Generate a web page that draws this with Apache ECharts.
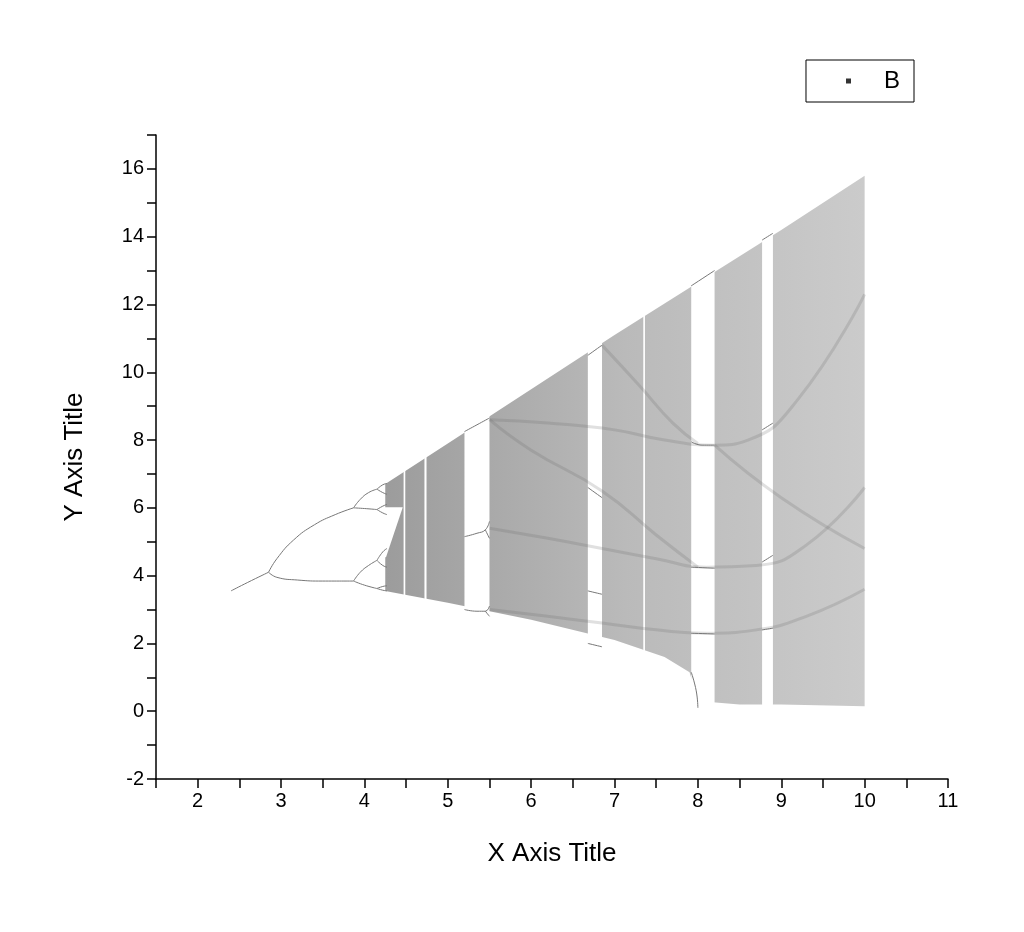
<!DOCTYPE html>
<html>
<head>
<meta charset="utf-8">
<script src="https://cdn.jsdelivr.net/npm/echarts@6/dist/echarts.min.js"></script>
<style>html,body{margin:0;background:#fff}#c{width:1024px;height:932px}</style>
</head>
<body>
<div id="c"></div>
<script>
// 混沌带上下包络
const bandUpper = [[4.25, 6.7], [5, 7.9], [6, 9.5], [7, 11.1], [8, 12.65], [9, 14.2], [10, 15.8]];
const bandLower = [[4.25, 3.55], [5, 3.2], [6, 2.7], [7, 2.1], [7.6, 1.6], [7.9, 1.15], [8.0, 0.3], [8.5, 0.2], [9, 0.2], [10, 0.15]];
// 4.2-4.45 之间两带之间的空白楔形
const wedge = [[4.2, 6.02], [4.46, 6.02], [4.26, 4.55], [4.2, 4.5]];
// 周期窗口 (空白竖条)
const windows = [[4.47, 4.49], [4.72, 4.745], [5.2, 5.5], [6.68, 6.85], [7.345, 7.365], [7.92, 8.2], [8.77, 8.9]];
// 周期轨道分支
const branches = [
  [[2.4, 3.55], [2.6, 3.8], [2.85, 4.1]],
  [[2.85, 4.1], [2.95, 4.5], [3.15, 5.05], [3.4, 5.5], [3.65, 5.8], [3.87, 6.0]],
  [[2.85, 4.1], [2.95, 3.95], [3.2, 3.87], [3.5, 3.84], [3.87, 3.84]],
  [[3.87, 6.0], [3.95, 6.25], [4.05, 6.45], [4.15, 6.55]],
  [[3.87, 6.0], [4.0, 5.98], [4.15, 5.95]],
  [[3.87, 3.84], [3.95, 4.1], [4.05, 4.3], [4.15, 4.45]],
  [[3.87, 3.84], [4.0, 3.72], [4.15, 3.62]],
  [[4.15, 6.55], [4.22, 6.68], [4.27, 6.72]],
  [[4.15, 6.55], [4.22, 6.45], [4.27, 6.4]],
  [[4.15, 5.95], [4.22, 6.05], [4.27, 6.1]],
  [[4.15, 5.95], [4.22, 5.85], [4.27, 5.8]],
  [[4.15, 4.45], [4.22, 4.7], [4.27, 4.8]],
  [[4.15, 4.45], [4.22, 4.3], [4.27, 4.25]],
  [[4.15, 3.62], [4.22, 3.68], [4.27, 3.7]],
  [[4.15, 3.62], [4.22, 3.57], [4.27, 3.55]],
  // 周期3窗口
  [[5.2, 8.25], [5.35, 8.45], [5.5, 8.65]],
  [[5.2, 5.15], [5.35, 5.25], [5.45, 5.35], [5.5, 5.6]],
  [[5.45, 5.35], [5.5, 5.1]],
  [[5.2, 3.0], [5.35, 2.95], [5.45, 2.95], [5.5, 3.1]],
  [[5.45, 2.95], [5.5, 2.8]],
  // 6.7 窗口
  [[6.68, 10.5], [6.85, 10.8]],
  [[6.68, 6.6], [6.85, 6.3]],
  [[6.68, 3.55], [6.85, 3.45]],
  [[6.68, 2.0], [6.85, 1.9]],
  // 8 窗口
  [[7.92, 12.55], [8.2, 13.0]],
  [[7.92, 7.95], [8.05, 7.85], [8.2, 7.85]],
  [[7.92, 4.25], [8.2, 4.22]],
  [[7.92, 2.3], [8.2, 2.28]],
  [[7.92, 1.15], [7.98, 0.6], [8.0, 0.1]],
  // 8.8 窗口
  [[8.77, 13.9], [8.9, 14.1]],
  [[8.77, 8.3], [8.9, 8.5]],
  [[8.77, 4.4], [8.9, 4.6]],
  [[8.77, 2.4], [8.9, 2.45]]
];
// 混沌带内较暗的影线
const shadows = [
  [[5.5, 8.6], [6.2, 8.5], [7.0, 8.3], [7.6, 8.0], [8.2, 7.85], [8.6, 8.0], [9.2, 9.2], [10, 12.3]],
  [[6.85, 10.8], [7.3, 9.6], [7.7, 8.5], [8.0, 7.9]],
  [[5.5, 5.4], [6.2, 5.1], [6.85, 4.8], [7.5, 4.5], [8.1, 4.25], [8.7, 4.3], [9.3, 4.9], [10, 6.6]],
  [[5.5, 3.0], [6.2, 2.8], [6.85, 2.6], [7.5, 2.4], [8.1, 2.3], [8.7, 2.4], [9.3, 2.8], [10, 3.6]],
  [[5.5, 8.6], [6.0, 7.7], [6.85, 6.5], [7.5, 5.2], [8.0, 4.25]],
  [[8.2, 7.85], [9.0, 6.3], [10, 4.8]]
];
const xTicks = [2, 3, 4, 5, 6, 7, 8, 9, 10, 11];
const yTicks = [-2, 0, 2, 4, 6, 8, 10, 12, 14, 16];

function polySeries(points, fill, z) {
  return {
    type: 'custom', z: z, silent: true, data: [0],
    renderItem: function (params, api) {
      return { type: 'polygon', shape: { points: points.map(p => api.coord(p)) }, style: { fill: fill } };
    }
  };
}
function lineSeries(points, color, width, z) {
  return {
    type: 'line', data: points, z: z, symbol: 'none', silent: true, smooth: true,
    lineStyle: { color: color, width: width }
  };
}

const chart = echarts.init(document.getElementById('c'));
const series = [];
series.push(polySeries(bandUpper.concat(bandLower.slice().reverse()), {
  type: 'linear', x: 0, y: 0, x2: 1, y2: 0,
  colorStops: [{ offset: 0, color: '#9c9c9c' }, { offset: 0.5, color: '#bababa' }, { offset: 1, color: '#cbcbcb' }]
}, 1));
series.push(polySeries(wedge, '#fff', 2));
windows.forEach(w => series.push(polySeries([[w[0], 0.05], [w[1], 0.05], [w[1], 16.2], [w[0], 16.2]], '#fff', 2)));
shadows.forEach(s => series.push(lineSeries(s, 'rgba(100,100,100,0.2)', 3, 3)));
branches.forEach(b => series.push(lineSeries(b, '#777', 1, 4)));
series.push({ name: 'B', type: 'scatter', data: [], symbol: 'rect', symbolSize: 5, itemStyle: { color: '#000' } });

const font = 'Liberation Sans';
chart.setOption({
  animation: false,
  grid: { left: 156, right: 76, top: 135, bottom: 153 },
  legend: {
    data: [{ name: 'B', icon: 'rect' }], right: 110, top: 60, itemWidth: 5, itemHeight: 5, itemGap: 10,
    borderColor: '#000', borderWidth: 1, borderRadius: 0, padding: [9, 14, 9, 40],
    textStyle: { fontFamily: font, fontSize: 24, color: '#000', padding: [0, 0, 0, 28] }
  },
  xAxis: {
    type: 'value', min: 1.5, max: 11, interval: 0.5, name: 'X Axis Title', nameLocation: 'middle', nameGap: 62,
    nameTextStyle: { fontFamily: font, fontSize: 26, color: '#000' },
    axisLine: { onZero: false, lineStyle: { color: '#000', width: 1.5 } },
    axisTick: { length: 9, lineStyle: { color: '#000', width: 1.5 } },
    axisLabel: {
      fontFamily: font, fontSize: 20, color: '#000', margin: 12,
      formatter: v => xTicks.indexOf(v) >= 0 ? String(v) : ''
    },
    splitLine: { show: false }
  },
  yAxis: {
    type: 'value', min: -2, max: 17, interval: 1, name: 'Y Axis Title', nameLocation: 'middle', nameGap: 68,
    nameTextStyle: { fontFamily: font, fontSize: 26, color: '#000' },
    axisLine: { show: true, onZero: false, lineStyle: { color: '#000', width: 1.5 } },
    axisTick: { show: true, length: 9, lineStyle: { color: '#000', width: 1.5 } },
    axisLabel: {
      fontFamily: font, fontSize: 20, color: '#000', margin: 12,
      formatter: v => yTicks.indexOf(v) >= 0 ? String(v) : ''
    },
    splitLine: { show: false }
  },
  series: series
});
</script>
</body>
</html>
